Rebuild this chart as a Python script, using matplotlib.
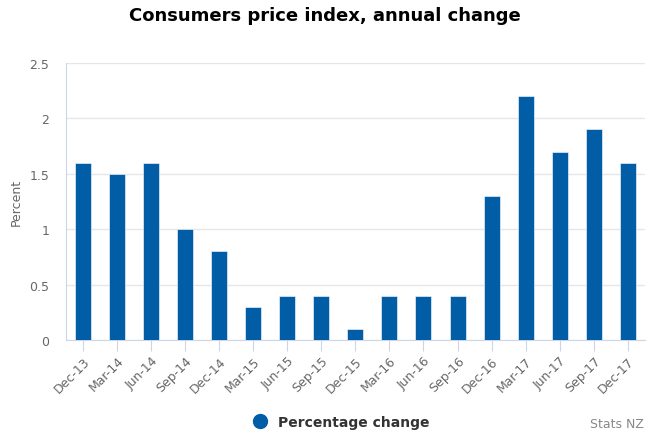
import matplotlib.pyplot as plt
from matplotlib.lines import Line2D
import numpy as np

# data
quarters = ['Dec-13', 'Mar-14', 'Jun-14', 'Sep-14', 'Dec-14', 'Mar-15', 'Jun-15',
            'Sep-15', 'Dec-15', 'Mar-16', 'Jun-16', 'Sep-16', 'Dec-16', 'Mar-17',
            'Jun-17', 'Sep-17', 'Dec-17']
pct_change = [1.6, 1.5, 1.6, 1.0, 0.8, 0.3, 0.4, 0.4, 0.1, 0.4, 0.4, 0.4,
              1.3, 2.2, 1.7, 1.9, 1.6]
yticks = [0, 0.5, 1, 1.5, 2, 2.5]
ytick_labels = ['0', '0.5', '1', '1.5', '2', '2.5']

bar_color = '#005da6'
axis_color = '#ccd6eb'
text_color = '#666666'

fig = plt.figure(figsize=(6.5, 4.35), dpi=100)
ax = fig.add_axes([0.1015, 0.216, 0.8905, 0.637])

x = np.arange(len(quarters))
ax.bar(x, pct_change, width=0.47, color=bar_color, edgecolor='#ffffff', linewidth=0.4, zorder=3)

ax.set_xlim(-0.5, len(quarters) - 0.5)
ax.set_ylim(0, 2.5)
ax.set_yticks(yticks)
ax.set_yticklabels(ytick_labels)
ax.yaxis.grid(True, color='#e6e6e6', linewidth=1, zorder=0)
ax.set_axisbelow(True)

for side in ['top', 'right']:
    ax.spines[side].set_visible(False)
ax.spines['left'].set_color(axis_color)
ax.spines['bottom'].set_color(axis_color)

ax.tick_params(axis='y', length=0, pad=12, labelsize=9, labelcolor=text_color)
ax.tick_params(axis='x', length=8, color=axis_color, labelsize=9, labelcolor=text_color, pad=2)
ax.set_xticks(x)
ax.set_xticklabels(quarters, rotation=45, ha='right', rotation_mode='anchor')

ax.set_ylabel('Percent', color=text_color, fontsize=9)
ax.yaxis.set_label_coords(-0.074, 0.5)

fig.suptitle('Consumers price index, annual change', fontsize=13, fontweight='bold',
             x=0.5, y=0.985, va='top')

handle = Line2D([], [], marker='o', linestyle='none', markersize=10, color=bar_color)
leg = fig.legend([handle], ['Percentage change'], loc='center', bbox_to_anchor=(0.52, 0.027),
                 frameon=False, handletextpad=0.3,
                 prop={'weight': 'bold', 'size': 10})
for t in leg.get_texts():
    t.set_color('#333333')

fig.text(0.99, 0.01, 'Stats NZ', ha='right', va='bottom', fontsize=9, color='#888888')

plt.savefig('out.png', dpi=100)
